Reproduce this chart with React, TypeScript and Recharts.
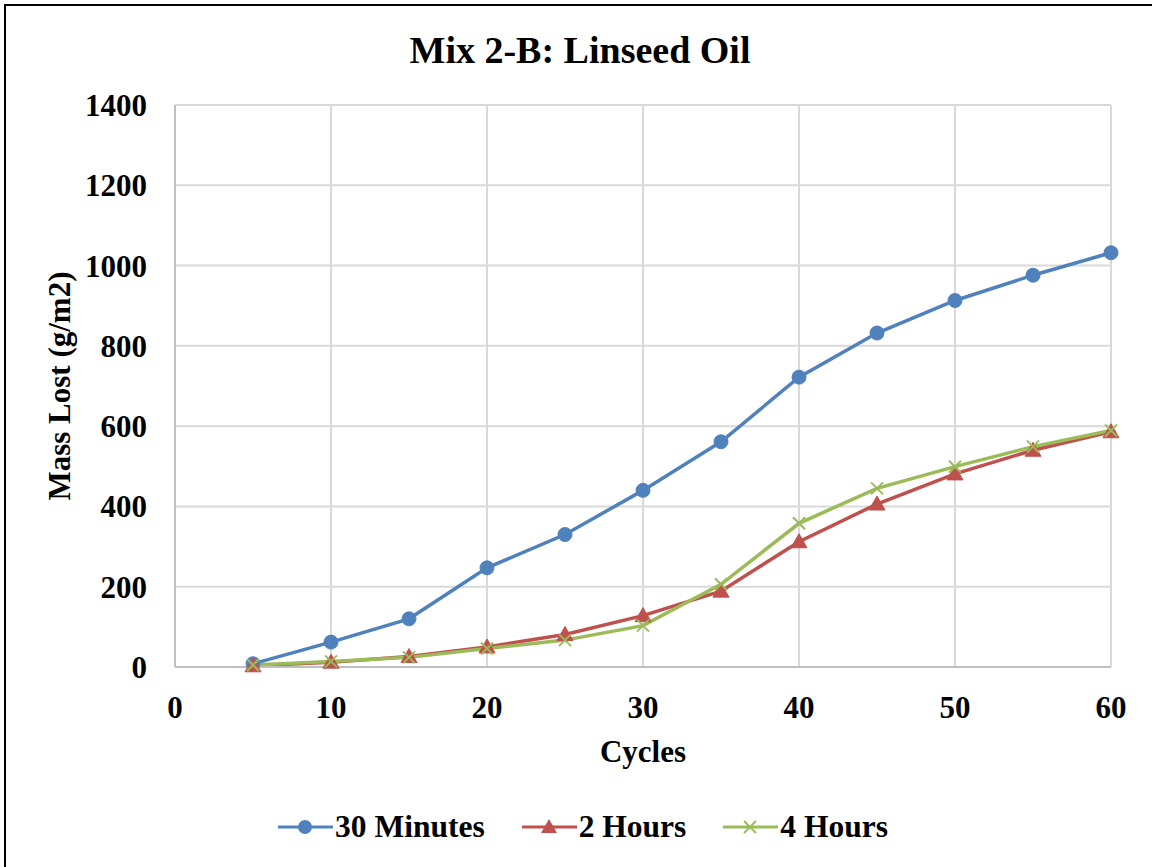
import React from 'react';
import { LineChart, Line, XAxis, YAxis, CartesianGrid, Legend, Label } from 'recharts';

const cycles = [5, 10, 15, 20, 25, 30, 35, 40, 45, 50, 55, 60];
const min30 = [8, 62, 120, 247, 330, 440, 561, 722, 832, 913, 976, 1032];
const hours2 = [3, 12, 26, 50, 81, 128, 189, 312, 406, 481, 540, 586];
const hours4 = [5, 14, 24, 46, 67, 103, 206, 358, 445, 499, 549, 589];
const xTicks = [0, 10, 20, 30, 40, 50, 60];
const yTicks = [0, 200, 400, 600, 800, 1000, 1200, 1400];

const seriesNames = ['30 Minutes', '2 Hours', '4 Hours'];
const BLUE = '#4F81BD';
const RED = '#C0504D';
const GREEN = '#9BBB59';
const FONT = '"Liberation Serif", "Times New Roman", serif';

const data = cycles.map((c, i) => ({ cycle: c, a: min30[i], b: hours2[i], c: hours4[i] }));

const CircleDot = (props: any) => {
  const { cx, cy, index } = props;
  if (cx == null || cy == null) return <g key={`c${index}`} />;
  return <circle key={`c${index}`} cx={cx} cy={cy} r={7} fill={BLUE} stroke={BLUE} strokeWidth={1} />;
};

const TriDot = (props: any) => {
  const { cx, cy, index } = props;
  if (cx == null || cy == null) return <g key={`t${index}`} />;
  const s = 8;
  return (
    <polygon
      key={`t${index}`}
      points={`${cx},${cy - s} ${cx + s},${cy + s * 0.75} ${cx - s},${cy + s * 0.75}`}
      fill={RED}
      stroke={RED}
      strokeWidth={1}
    />
  );
};

const XDot = (props: any) => {
  const { cx, cy, index } = props;
  if (cx == null || cy == null) return <g key={`x${index}`} />;
  const s = 6;
  return (
    <g key={`x${index}`}>
      <line x1={cx - s} y1={cy - s} x2={cx + s} y2={cy + s} stroke={GREEN} strokeWidth={2} />
      <line x1={cx - s} y1={cy + s} x2={cx + s} y2={cy - s} stroke={GREEN} strokeWidth={2} />
    </g>
  );
};

const legendMarker = (i: number) => {
  const cx = 27;
  const cy = 10;
  if (i === 0) return <circle cx={cx} cy={cy} r={7} fill={BLUE} />;
  if (i === 1) return <polygon points={`${cx},${cy - 8} ${cx + 8},${cy + 6} ${cx - 8},${cy + 6}`} fill={RED} />;
  return (
    <g>
      <line x1={cx - 6} y1={cy - 6} x2={cx + 6} y2={cy + 6} stroke={GREEN} strokeWidth={2} />
      <line x1={cx - 6} y1={cy + 6} x2={cx + 6} y2={cy - 6} stroke={GREEN} strokeWidth={2} />
    </g>
  );
};

const colors = [BLUE, RED, GREEN];

const renderLegend = () => (
  <div style={{ display: 'flex', justifyContent: 'center', alignItems: 'center', height: 40, fontFamily: FONT, fontWeight: 'bold', fontSize: 31.5, color: '#000' }}>
    {seriesNames.map((n, i) => (
      <div key={n} style={{ display: 'flex', alignItems: 'center', marginRight: i < 2 ? 37 : 0 }}>
        <svg width={55} height={20} style={{ marginRight: 2 }}>
          <line x1={0} y1={10} x2={55} y2={10} stroke={colors[i]} strokeWidth={3} />
          {legendMarker(i)}
        </svg>
        <span>{n}</span>
      </div>
    ))}
  </div>
);

const tickStyle = { fontFamily: FONT, fontWeight: 'bold' as const, fontSize: 31, fill: '#000' };

export default function App() {
  return (
    <div style={{ position: 'fixed', left: 0, top: 0, width: 1152, height: 867, background: '#fff', overflow: 'hidden' }}>
      <div style={{ position: 'absolute', left: 4, top: 4, width: 1200, height: 900, border: '2px solid #000' }} />
      <div
        style={{
          position: 'absolute',
          left: 4,
          top: 31,
          width: 1152,
          lineHeight: '38px',
          textAlign: 'center',
          fontFamily: FONT,
          fontWeight: 'bold',
          fontSize: 38,
          color: '#000',
        }}
      >
        Mix 2-B: Linseed Oil
      </div>
      <div style={{ position: 'absolute', left: 0, top: 0 }}>
        <LineChart width={1152} height={867} data={data} margin={{ top: 105, right: 41, left: 55, bottom: 20 }}>
          <CartesianGrid stroke="#d9d9d9" strokeWidth={2} />
          <XAxis
            dataKey="cycle"
            type="number"
            domain={[0, 60]}
            ticks={xTicks}
            tick={tickStyle}
            tickLine={false}
            tickSize={0}
            tickMargin={29}
            axisLine={{ stroke: '#bfbfbf', strokeWidth: 2 }}
            height={140}
          >
            <Label value="Cycles" position="insideBottom" offset={45} style={{ fontFamily: FONT, fontWeight: 'bold', fontSize: 31, fill: '#000' }} />
          </XAxis>
          <YAxis
            type="number"
            domain={[0, 1400]}
            ticks={yTicks}
            tick={tickStyle}
            tickLine={false}
            tickSize={0}
            tickMargin={28}
            axisLine={{ stroke: '#bfbfbf', strokeWidth: 2 }}
            width={120}
            interval={0}
          >
            <Label value="Mass Lost (g/m2)" position="center" angle={-90} dx={-56} style={{ fontFamily: FONT, fontWeight: 'bold', fontSize: 31, fill: '#000' }} />
          </YAxis>
          <Legend verticalAlign="bottom" content={renderLegend} />
          <Line dataKey="a" name={seriesNames[0]} stroke={BLUE} strokeWidth={3.5} dot={CircleDot} isAnimationActive={false} />
          <Line dataKey="b" name={seriesNames[1]} stroke={RED} strokeWidth={3.5} dot={TriDot} isAnimationActive={false} />
          <Line dataKey="c" name={seriesNames[2]} stroke={GREEN} strokeWidth={3.5} dot={XDot} isAnimationActive={false} />
        </LineChart>
      </div>
    </div>
  );
}
